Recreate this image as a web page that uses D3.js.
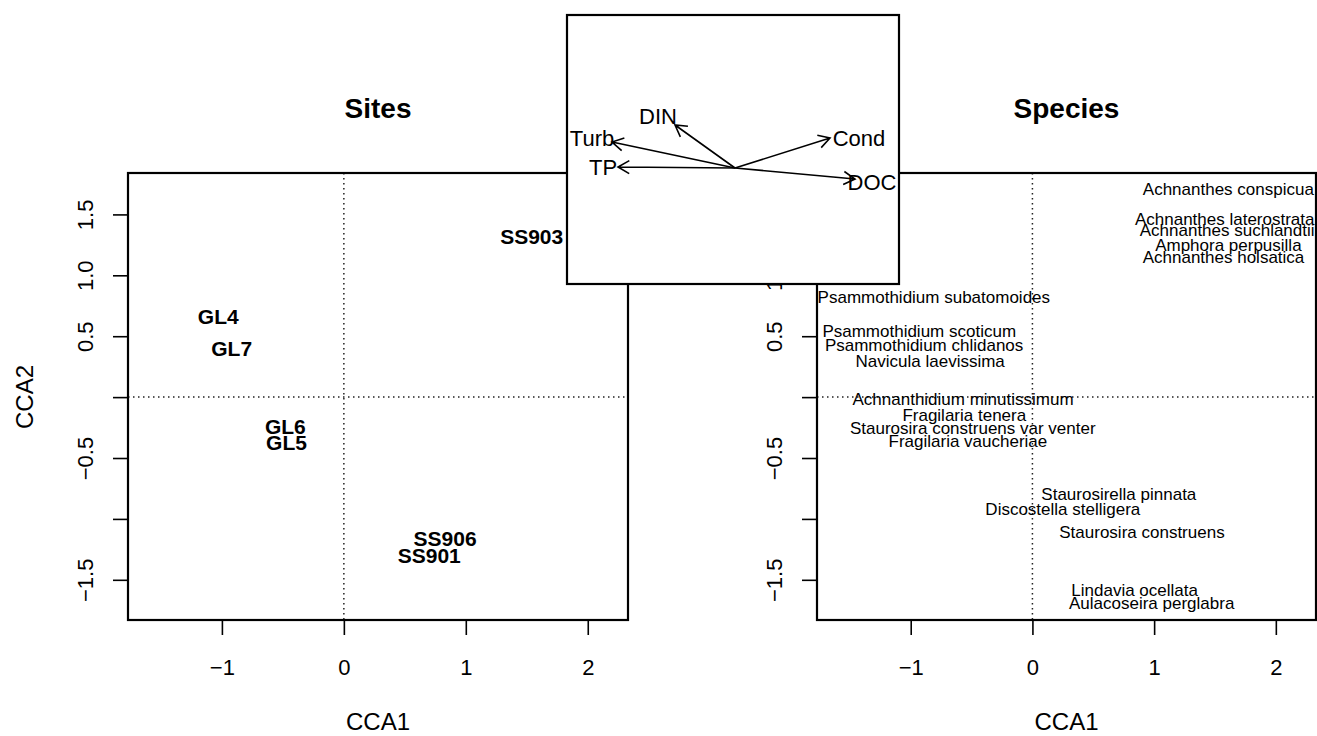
<!DOCTYPE html>
<html>
<head>
<meta charset="utf-8">
<script src="https://cdn.jsdelivr.net/npm/d3@7"></script>
<style>
  body { margin: 0; background: #fff; }
  svg { display: block; font-family: "Liberation Sans", Arial, Helvetica, sans-serif; }
</style>
</head>
<body>
<div id="chart"></div>
<script>
// sites panel
const siteNames = ['SS903', 'GL4', 'GL7', 'GL6', 'GL5', 'SS906', 'SS901'];
const siteCCA1 = [1.54, -1.03, -0.92, -0.48, -0.47, 0.83, 0.70];
const siteCCA2 = [1.32, 0.66, 0.40, -0.24, -0.37, -1.16, -1.30];

// species panel
const speciesNames = [
  'Achnanthes conspicua', 'Achnanthes laterostrata', 'Achnanthes suchlandtii',
  'Amphora perpusilla', 'Achnanthes holsatica', 'Psammothidium subatomoides',
  'Psammothidium scoticum', 'Psammothidium chlidanos', 'Navicula laevissima',
  'Achnanthidium minutissimum', 'Fragilaria tenera', 'Staurosira construens var venter',
  'Fragilaria vaucheriae', 'Staurosirella pinnata', 'Discostella stelligera',
  'Staurosira construens', 'Lindavia ocellata', 'Aulacoseira perglabra'
];
const speciesCCA1 = [1.61, 1.58, 1.60, 1.61, 1.57, -0.81, -0.93, -0.89, -0.84, -0.57, -0.56, -0.49, -0.53, 0.71, 0.25, 0.90, 0.84, 0.98];
const speciesCCA2 = [1.71, 1.46, 1.37, 1.25, 1.15, 0.82, 0.54, 0.43, 0.30, -0.02, -0.15, -0.25, -0.36, -0.80, -0.92, -1.11, -1.58, -1.69];

// environmental vectors (inset)
const envNames = ['Turb', 'TP', 'DIN', 'Cond', 'DOC'];
const envCCA1 = [-1.23, -1.17, -0.60, 0.95, 1.20];
const envCCA2 = [0.26, 0.01, 0.43, 0.30, -0.11];
const envLabelCCA1 = [-1.43, -1.32, -0.77, 1.24, 1.37];
const envLabelCCA2 = [0.30, 0.01, 0.52, 0.30, -0.14];

// axes
const xDomain = [-1.77, 2.33];
const yDomain = [-1.83, 1.84];
const xTicks = [-1, 0, 1, 2];
const yTicks = [-1.5, -1, -0.5, 0, 0.5, 1, 1.5];
const yTickLabels = ['\u22121.5', '', '\u22120.5', '', '0.5', '1.0', '1.5'];
const insetXDomain = [-1.68, 1.64];
const insetYDomain = [-1.16, 1.53];

const W = 1317, H = 736;
const svg = d3.select('#chart').append('svg')
  .attr('width', W).attr('height', H)
  .attr('viewBox', `0 0 ${W} ${H}`);

const fmtX = d => (d < 0 ? '\u2212' + Math.abs(d) : String(d));

function panel (left, right, top, bottom, title, drawPoints) {
  const x = d3.scaleLinear().domain(xDomain).range([left, right]);
  const y = d3.scaleLinear().domain(yDomain).range([bottom, top]);
  const g = svg.append('g');

  // dotted zero lines
  g.append('line')
    .attr('x1', x(0)).attr('x2', x(0)).attr('y1', top).attr('y2', bottom)
    .attr('stroke', '#222').attr('stroke-width', 1.5).attr('stroke-dasharray', '1.5,3.5');
  g.append('line')
    .attr('x1', left).attr('x2', right).attr('y1', y(0)).attr('y2', y(0))
    .attr('stroke', '#222').attr('stroke-width', 1.5).attr('stroke-dasharray', '1.5,3.5');

  drawPoints(g, x, y);

  // x axis
  const xa = g.append('g')
    .attr('transform', `translate(0,${bottom})`)
    .call(d3.axisBottom(x).tickValues(xTicks).tickSize(15).tickFormat(fmtX));
  xa.select('.domain').remove();
  xa.selectAll('line').attr('stroke', '#000').attr('stroke-width', 1.6);
  xa.selectAll('text')
    .attr('y', 55).attr('dy', 0)
    .attr('fill', '#000')
    .style('font-size', '22px').style('font-family', 'Liberation Sans, Arial, sans-serif');

  // y axis
  const ya = g.append('g')
    .attr('transform', `translate(${left},0)`)
    .call(d3.axisLeft(y).tickValues(yTicks).tickSize(15).tickFormat((d, i) => yTickLabels[i]));
  ya.select('.domain').remove();
  ya.selectAll('line').attr('stroke', '#000').attr('stroke-width', 1.6);
  ya.selectAll('text')
    .attr('x', 0).attr('dy', 0)
    .attr('text-anchor', 'middle')
    .attr('transform', 'translate(-35,0) rotate(-90)')
    .attr('fill', '#000')
    .style('font-size', '22px').style('font-family', 'Liberation Sans, Arial, sans-serif');

  // box
  g.append('rect')
    .attr('x', left).attr('y', top)
    .attr('width', right - left).attr('height', bottom - top)
    .attr('fill', 'none').attr('stroke', '#000').attr('stroke-width', 2.2);

  // title
  g.append('text')
    .attr('x', (left + right) / 2).attr('y', 118)
    .attr('text-anchor', 'middle')
    .style('font-size', '28px').style('font-weight', 'bold')
    .text(title);

  // x label
  g.append('text')
    .attr('x', (left + right) / 2).attr('y', 730)
    .attr('text-anchor', 'middle')
    .style('font-size', '24px')
    .text('CCA1');

  return { x, y };
}

// Sites
panel(128, 628, 173, 620, 'Sites', (g, x, y) => {
  g.selectAll('text.site')
    .data(siteNames)
    .join('text')
    .attr('class', 'site')
    .attr('x', (d, i) => x(siteCCA1[i]))
    .attr('y', (d, i) => y(siteCCA2[i]))
    .attr('dy', '0.35em')
    .attr('text-anchor', 'middle')
    .style('font-size', '21px').style('font-weight', 'bold')
    .text(d => d);
});

svg.append('text')
  .attr('transform', 'translate(33,397) rotate(-90)')
  .attr('text-anchor', 'middle')
  .style('font-size', '24px')
  .text('CCA2');

// Species
panel(817, 1316, 173, 620, 'Species', (g, x, y) => {
  g.selectAll('text.sp')
    .data(speciesNames)
    .join('text')
    .attr('class', 'sp')
    .attr('x', (d, i) => x(speciesCCA1[i]))
    .attr('y', (d, i) => y(speciesCCA2[i]))
    .attr('dy', '0.35em')
    .attr('text-anchor', 'middle')
    .style('font-size', '17px')
    .text(d => d);
});

// Inset biplot of environmental variables
const ix = d3.scaleLinear().domain(insetXDomain).range([567, 899]);
const iy = d3.scaleLinear().domain(insetYDomain).range([284, 15]);
const inset = svg.append('g');
inset.append('rect')
  .attr('x', 567).attr('y', 15).attr('width', 332).attr('height', 269)
  .attr('fill', '#fff').attr('stroke', '#000').attr('stroke-width', 2.2);

const head = 13, ang = Math.PI / 6;
envNames.forEach((name, i) => {
  const x0 = ix(0), y0 = iy(0);
  const x1 = ix(envCCA1[i]), y1 = iy(envCCA2[i]);
  const th = Math.atan2(y1 - y0, x1 - x0);
  const path = d3.path();
  path.moveTo(x0, y0); path.lineTo(x1, y1);
  path.moveTo(x1 - head * Math.cos(th - ang), y1 - head * Math.sin(th - ang));
  path.lineTo(x1, y1);
  path.lineTo(x1 - head * Math.cos(th + ang), y1 - head * Math.sin(th + ang));
  inset.append('path')
    .attr('d', path.toString())
    .attr('fill', 'none').attr('stroke', '#000').attr('stroke-width', 1.6);
  inset.append('text')
    .attr('x', ix(envLabelCCA1[i])).attr('y', iy(envLabelCCA2[i]))
    .attr('dy', '0.35em')
    .attr('text-anchor', 'middle')
    .style('font-size', '22px')
    .text(name);
});
</script>
</body>
</html>
